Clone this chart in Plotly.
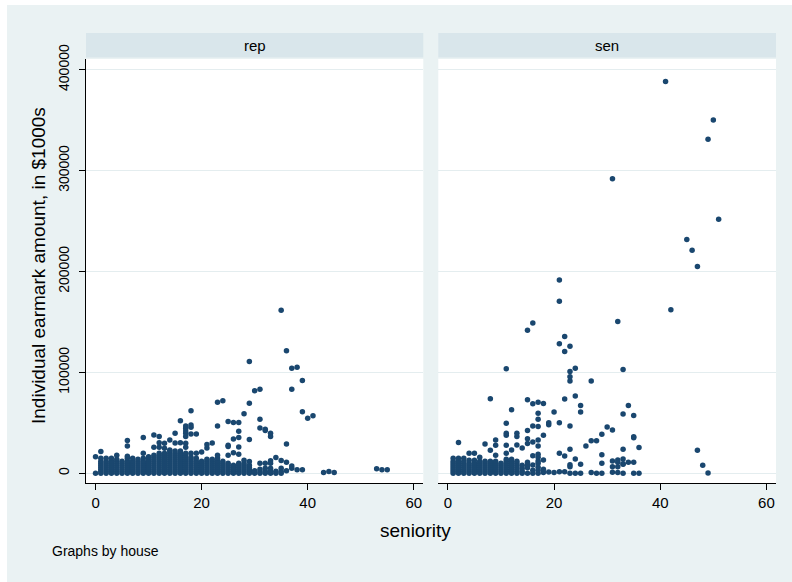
import plotly.graph_objects as go

# ---------------- data (amounts in $1000s) ----------------
# Dense low stacks: index = seniority, values = earmark amounts
rep_stack_amounts = [
    [0],                                                        # 0
    [0, 2000, 4000, 6000, 8000, 10000, 12000, 15000],           # 1
    [0, 2000, 4000, 6000, 8000, 10000, 12000, 15000],           # 2
    [0, 2000, 4000, 6000, 8000, 10000, 12000, 15000],           # 3
    [0, 2000, 4000, 6000, 8000, 10000, 12000, 14000],           # 4
    [0, 2000, 4000, 6000, 8000, 10000, 12000],                  # 5
    [0, 2000, 4000, 6000, 8000, 10000, 12000, 15000],           # 6
    [0, 2000, 4000, 6000, 8000, 10000, 12000, 15000],           # 7
    [0, 2000, 4000, 6000, 8000, 10000, 12000, 14000],           # 8
    [0, 2000, 4000, 6000, 8000, 10000, 12000, 15000],           # 9
    [0, 2000, 4000, 6000, 8000, 10000, 12000, 14000],           # 10
    [0, 2000, 4000, 6000, 8000, 10000, 12000, 14000, 16000, 18000],  # 11
    [0, 2000, 4000, 6000, 8000, 10000, 12000, 14000, 16000, 18000, 20000],  # 12
    [0, 2000, 4000, 6000, 8000, 10000, 12000, 14000, 16000, 18000, 20000],  # 13
    [0, 2000, 4000, 6000, 8000, 10000, 12000, 14000, 16000, 18000, 20000, 22000],  # 14
    [0, 2000, 4000, 6000, 8000, 10000, 12000, 14000, 16000, 18000, 20000, 22000],  # 15
    [0, 2000, 4000, 6000, 8000, 10000, 12000, 14000, 16000, 18000, 20000, 22000],  # 16
    [0, 2000, 4000, 6000, 8000, 10000, 12000, 14000, 16000, 18000, 20000],  # 17
    [0, 2000, 4000, 6000, 8000, 10000, 12000, 14000, 16000],    # 18
    [0, 2000, 4000, 6000, 8000, 10000, 12000, 15000],           # 19
    [0, 2000, 4000, 6000, 8000, 10000, 12000],                  # 20
    [0, 2000, 4000, 6000, 8000, 10000, 12000, 14000],           # 21
    [0, 2000, 4000, 6000, 8000, 10000, 12000, 14000],           # 22
    [0, 2000, 4000, 6000, 8000, 10000, 12000, 15000],           # 23
    [0, 2000, 4000, 6000, 8000, 10000, 12000],                  # 24
    [0, 2000, 4000, 6000, 8000, 10000],                         # 25
    [0, 2000, 4000, 6000, 8000],                                # 26
    [0, 2000, 4000, 6000, 8000, 10000],                         # 27
    [0, 2000, 4000, 6000, 8000],                                # 28
    [0, 2000, 4000, 6000, 8000],                                # 29
    [0, 2600],                                                  # 30
    [0, 1600, 4000],                                            # 31
    [0, 2000, 5000],                                            # 32
    [0, 2000, 5000],                                            # 33
    [0, 2000],                                                  # 34
    [0, 2000, 5000],                                            # 35
    [2600],                                                     # 36
]

# Scattered rep earmarks: (seniority, amount)
rep_extra = [
    (0, 16500), (1, 21500), (4, 18000), (6, 17000), (6, 27000), (6, 32400),
    (9, 20000), (9, 35400), (10, 16500), (11, 25800), (11, 38000), (12, 25800),
    (12, 30400), (12, 36400), (13, 24800), (13, 29800), (14, 23000), (14, 33000),
    (15, 30000), (15, 39700), (16, 30400), (16, 52000), (17, 25800), (17, 29800),
    (17, 36400), (17, 39700), (17, 42000), (17, 44700), (17, 47000), (18, 20000),
    (18, 39000), (18, 45700), (18, 48000), (18, 61900), (19, 20000), (19, 39000),
    (20, 21000), (21, 25000), (21, 28500), (22, 30000), (23, 18000), (23, 47000),
    (23, 70500), (24, 71800), (25, 18000), (25, 26500), (25, 27800), (25, 51300),
    (26, 20500), (26, 34000), (26, 50300), (27, 19000), (27, 26000), (27, 35400),
    (27, 41700), (27, 50300), (28, 10000), (28, 13000), (28, 59000), (29, 11600),
    (29, 33400), (29, 69500), (29, 110800), (30, 81700), (31, 9900), (31, 45000),
    (31, 53600), (31, 83400), (32, 9900), (32, 42400), (32, 43700), (33, 9900),
    (33, 12500), (33, 36400), (33, 39700), (34, 15600), (35, 12600), (35, 161500),
    (36, 11000), (36, 29000), (36, 121400), (37, 5000), (37, 7300), (37, 83400),
    (37, 104000), (38, 3600), (38, 105000), (39, 3600), (39, 61000), (39, 92000),
    (40, 54600), (41, 57000), (43, 700), (44, 1700), (45, 700), (53, 4600),
    (54, 3600), (55, 3600),
]

sen_stack_amounts = [
    [],                                                         # 0
    [0, 2000, 4000, 6000, 8000, 10000, 12000, 15000],           # 1
    [0, 2000, 4000, 6000, 8000, 10000, 12000, 15000],           # 2
    [0, 2000, 4000, 6000, 8000, 10000, 12000, 15000],           # 3
    [0, 2000, 4000, 6000, 8000, 10000, 13000],                  # 4
    [0, 2000, 4000, 6000, 8000, 10000, 13000],                  # 5
    [0, 2000, 4000, 6000, 8000, 10000, 12000, 16000],           # 6
    [0, 2000, 4000, 6000, 8000, 10000, 12000],                  # 7
    [0, 2000, 4000, 6000, 8000, 10000, 12000],                  # 8
    [0, 2000, 4000, 6000, 8000, 10000, 12000],                  # 9
    [0, 2000, 4000, 6000, 8000, 10000],                         # 10
    [0, 2000, 4000, 6000, 8000, 10000, 12000, 14000],           # 11
    [0, 2000, 4000, 6000, 8000, 10000, 12000, 14000],           # 12
    [0, 2000, 4000, 6000, 8000, 10000, 12000],                  # 13
    [0, 2000, 5000, 8000],                                      # 14
    [0, 5600, 8000],                                            # 15
    [0, 3000, 8200],                                            # 16
    [0, 3000, 6000, 10000],                                     # 17
    [700, 4000],                                                # 18
    [1300],                                                     # 19
    [700],                                                      # 20
    [1600],                                                     # 21
    [1600],                                                     # 22
    [0],                                                        # 23
    [0],                                                        # 24
    [0],                                                        # 25
]

# Scattered sen earmarks: (seniority, amount)
sen_extra = [
    (2, 30500), (4, 20000), (5, 20000), (7, 29000), (8, 22800), (8, 74000),
    (9, 18000), (9, 27800), (9, 33000), (11, 20000), (11, 27800), (11, 37700),
    (11, 39700), (11, 49700), (11, 103600), (12, 23200), (12, 63000), (13, 28000),
    (13, 36400), (13, 39700), (14, 25000), (15, 10900), (15, 29500), (15, 34200),
    (15, 42400), (15, 72800), (15, 141800), (16, 17400), (16, 31000), (16, 47000),
    (16, 68900), (16, 149000), (17, 12200), (17, 15800), (17, 19000), (17, 27000),
    (17, 33000), (17, 46400), (17, 53600), (17, 59600), (17, 70500), (18, 13200),
    (18, 37600), (18, 69300), (19, 48200), (19, 50000), (20, 60700), (21, 19800),
    (21, 50000), (21, 128400), (21, 170600), (21, 191700), (22, 17200), (22, 73600),
    (22, 120800), (22, 135600), (23, 6600), (23, 8600), (23, 23800), (23, 46900),
    (23, 91400), (23, 95700), (23, 101000), (23, 126000), (24, 14200), (24, 76600),
    (24, 104000), (25, 8900), (25, 60700), (25, 67300), (26, 27000), (27, 700),
    (27, 32300), (27, 91400), (28, 0), (28, 32300), (29, 0), (29, 9900), (29, 18500),
    (29, 38600), (30, 45900), (31, 1000), (31, 6600), (31, 12200), (31, 43000),
    (31, 291900), (32, 700), (32, 6600), (32, 10900), (32, 13200), (32, 150500),
    (33, 0), (33, 8900), (33, 9500), (33, 14200), (33, 23800), (33, 58700),
    (33, 103000), (34, 10900), (34, 67300), (35, 0), (35, 10900), (35, 35300),
    (35, 36300), (35, 57400), (36, 0), (36, 25700), (41, 388400), (42, 162000),
    (45, 231700), (46, 221000), (47, 22800), (47, 205000), (48, 7900), (49, 300),
    (49, 331000), (50, 350200), (51, 251700),
]

panel_titles = ["rep", "sen"]
x_ticks = [0, 20, 40, 60]
y_ticks = [0, 100000, 200000, 300000, 400000]
y_tick_labels = ["0", "100000", "200000", "300000", "400000"]

# ---------------- build ----------------
def flatten(stacks, extra):
    xs, ys = [], []
    for s, vals in enumerate(stacks):
        for v in vals:
            xs.append(s)
            ys.append(v)
    for s, v in extra:
        xs.append(s)
        ys.append(v)
    return xs, ys

rep_x, rep_y = flatten(rep_stack_amounts, rep_extra)
sen_x, sen_y = flatten(sen_stack_amounts, sen_extra)

NAVY = "#1A476F"
BG = "#EAF2F3"
STRIP = "#D9E6EB"
GRID = "#E4EDEF"
FONT = "Liberation Sans, Arial, sans-serif"

fig = go.Figure()
marker = dict(color=NAVY, size=5.5, line=dict(width=0))
fig.add_trace(go.Scatter(x=rep_x, y=rep_y, mode="markers", marker=marker,
                         xaxis="x", yaxis="y", showlegend=False, hoverinfo="x+y"))
fig.add_trace(go.Scatter(x=sen_x, y=sen_y, mode="markers", marker=marker,
                         xaxis="x2", yaxis="y2", showlegend=False, hoverinfo="x+y"))

L, R, T, B = 86, 16, 59, 99
W, H = 792, 582
pw, ph = W - L - R, H - T - B
d1 = [0, (423.3 - L) / pw]
d2 = [(438.3 - L) / pw, 1]

xcommon = dict(range=[-1.8, 61.8], tickvals=x_ticks, ticks="outside", ticklen=6,
               tickcolor="#000", showline=True, linecolor="#000", linewidth=1,
               showgrid=False, zeroline=False,
               tickfont=dict(family=FONT, size=15, color="#000"))
ycommon = dict(range=[-9600, 410600], tickvals=y_ticks, ticktext=y_tick_labels,
               showgrid=True, gridcolor=GRID, gridwidth=1, zeroline=False)

fig.update_layout(
    width=W, height=H,
    margin=dict(l=L, r=R, t=T, b=B, pad=0),
    paper_bgcolor=BG, plot_bgcolor="white",
    font=dict(family=FONT, color="#000"),
    xaxis=dict(domain=d1, anchor="y", **xcommon),
    xaxis2=dict(domain=d2, anchor="y2", **xcommon),
    yaxis=dict(domain=[0, 1], anchor="x", ticks="outside", ticklen=6, tickcolor="#000",
               showline=True, linecolor="#000", linewidth=1, tickangle=-90,
               ticklabelstandoff=4,
               tickfont=dict(family=FONT, size=14, color="#000"), **ycommon),
    yaxis2=dict(domain=[0, 1], anchor="x2", matches="y", showticklabels=False,
                ticks="", showline=False, **ycommon),
    hovermode="closest",
)

def px_x(p):
    return (p - L) / pw

def px_y(p):
    return (H - B - p) / ph

shapes = []
for xr in ["x domain", "x2 domain"]:
    shapes.append(dict(type="rect", xref=xr, yref="paper", x0=0, x1=1,
                       y0=px_y(57.5), y1=px_y(33), fillcolor=STRIP, line=dict(width=0)))
# thin white outer frame at left/top edges
shapes.append(dict(type="rect", xref="paper", yref="paper", x0=px_x(0), x1=px_x(7),
                   y0=px_y(582), y1=px_y(0), fillcolor="white", line=dict(width=0)))
shapes.append(dict(type="rect", xref="paper", yref="paper", x0=px_x(0), x1=px_x(792),
                   y0=px_y(5), y1=px_y(0), fillcolor="white", line=dict(width=0)))
fig.update_layout(shapes=shapes)

ann = []
for i, t in enumerate(panel_titles):
    xr = "x domain" if i == 0 else "x2 domain"
    ann.append(dict(text=t, xref=xr, yref="paper", x=0.5, y=px_y(45), xanchor="center",
                    yanchor="middle", showarrow=False, font=dict(family=FONT, size=15)))
ann.append(dict(text="Individual earmark amount, in $1000s", xref="paper", yref="paper",
                x=px_x(38), y=px_y(266), textangle=-90, xanchor="center", yanchor="middle",
                showarrow=False, font=dict(family=FONT, size=19)))
ann.append(dict(text="seniority", xref="paper", yref="paper", x=px_x(415), y=px_y(530),
                xanchor="center", yanchor="middle", showarrow=False,
                font=dict(family=FONT, size=19)))
ann.append(dict(text="Graphs by house", xref="paper", yref="paper", x=px_x(50), y=px_y(551),
                xanchor="left", yanchor="middle", showarrow=False,
                font=dict(family=FONT, size=14)))
fig.update_layout(annotations=ann)

fig.write_html("out.html")
